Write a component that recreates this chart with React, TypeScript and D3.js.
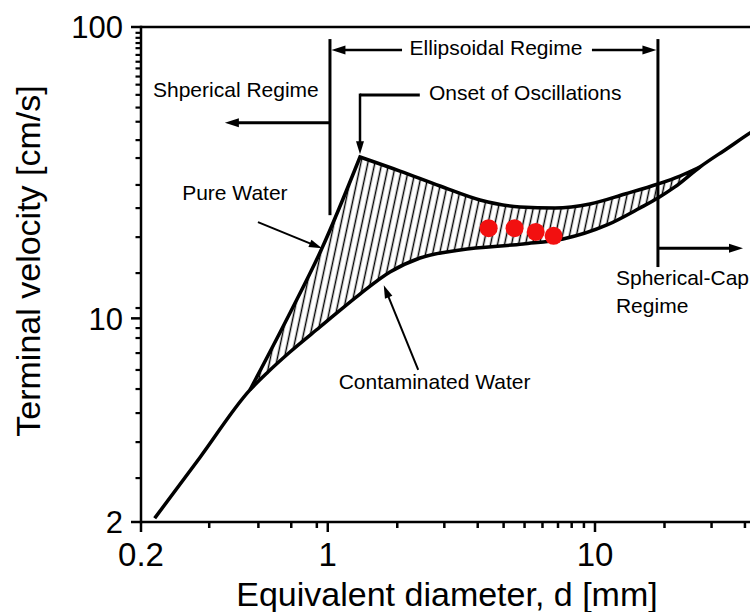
import React from 'react';
import * as d3 from 'd3';

const W = 750;
const H = 612;

// ---- Data (equivalent diameter d [mm], terminal velocity v [cm/s]) ----
const commonLeftD = [0.225, 0.3324, 0.5115];
const commonLeftV = [2.06, 3.33, 5.68];
const pureRiseD = [0.5115, 0.722, 0.951, 1.32];
const pureRiseV = [5.68, 10.43, 17.4, 35.8];
const pureFallD = [1.32, 1.863, 2.63, 3.712, 5.241, 7.086, 9.578, 12.95, 17.2, 20.8, 24.7];
const pureFallV = [35.8, 32.03, 28.46, 25.48, 24.12, 23.93, 24.69, 26.72, 28.92, 30.8, 33.07];
const contamD = [0.5115, 0.5973, 0.722, 0.935, 1.32, 1.709, 2.213, 3.124, 5.377, 7.59, 11.09, 14.74, 17.2, 19.91, 24.7];
const contamV = [5.68, 6.545, 7.665, 9.34, 12.12, 14.42, 16.11, 17.17, 18.0, 18.72, 20.92, 23.93, 25.89, 28.25, 33.07];
const commonRightD = [24.7, 31.46, 38.03, 47.2];
const commonRightV = [33.07, 38.44, 43.28, 48.7];
const measuredD = [4, 5, 6, 7];
const measuredV = [20.4, 20.4, 19.8, 19.2];

// ---- Ticks ----
const xMajorTicks = [0.2, 1, 10];
const xMajorLabels = ['0.2', '1', '10'];
const xMinorTicks = [0.36, 0.55, 0.73, 0.91, 1.82, 2.73, 3.64, 4.55, 5.45, 6.36, 7.27, 8.18, 9.09, 18.2, 27.3, 36.4];
const yMajorTicks = [2, 10, 100];
const yMajorLabels = ['2', '10', '100'];
const yMinorTicks = [2.83, 3.76, 4.73, 5.72, 6.65, 7.6, 8.56, 9.26, 10.85, 14.3, 19.0, 23.9, 28.7, 35.5, 40.9, 47.3, 52.9, 58.5, 63.4, 67.6, 72.1, 76.0, 80.2, 84.6, 88.1, 91.8, 95.5];

// ---- Annotation anchors (data coords) ----
const regimeTopV = 90.9;
const ellipLeftD = 1.019;
const ellipRightD = 17.2;
const ellipLeftBottomV = 22.6;
const capBottomV = 15.0;
const ellipArrowV = 83.4;
const ellipArrowLeftEndD = 1.896;
const ellipArrowRightStartD = 9.74;
const ellipTextD = 4.26;
const ellipTextV = 80.1;
const sphArrowV = 46.9;
const sphArrowTipD = 0.412;
const sphTextD = 0.453;
const sphTextV = 57.5;
const onsetD = 1.32;
const onsetTopV = 58.4;
const onsetTipV = 36.6;
const onsetLineEndD = 2.21;
const onsetTextD = 2.39;
const onsetTextV = 56.2;
const pureTextD = 0.449;
const pureTextV = 25.5;
const pureArrowFrom = [0.548, 21.4];
const pureArrowTo = [0.951, 17.4];
const contTextD = 2.51;
const contTextV = 5.72;
const contArrowFrom = [2.18, 6.65];
const contArrowTo = [1.62, 13.0];
const capArrowV = 17.4;
const capArrowTipD = 35.8;
const capTextD = 11.98;
const capTextV1 = 13.0;
const capTextV2 = 10.43;

const xScale = d3.scaleLog().domain([0.2, 10]).range([141, 595]);
const yScale = d3.scaleLog().domain([2, 100]).range([522, 27]);

const zip = (a: number[], b: number[]) => a.map((v, i) => [v, b[i]] as [number, number]);

const lineGen = d3
  .line<[number, number]>()
  .x((p) => xScale(p[0]))
  .y((p) => yScale(p[1]))
  .curve(d3.curveMonotoneX);

const FONT = 'Liberation Sans, Arial, Helvetica, sans-serif';

function arrowHead(x1: number, y1: number, x2: number, y2: number, len = 14, half = 4.5) {
  const a = Math.atan2(y2 - y1, x2 - x1);
  const bx = x2 - len * Math.cos(a);
  const by = y2 - len * Math.sin(a);
  const px = -Math.sin(a) * half;
  const py = Math.cos(a) * half;
  return `${x2},${y2} ${bx + px},${by + py} ${bx - px},${by - py}`;
}

function Arrow({ x1, y1, x2, y2, w = 3, len = 14, half = 4.5 }: any) {
  const a = Math.atan2(y2 - y1, x2 - x1);
  const ex = x2 - (len - 2) * Math.cos(a);
  const ey = y2 - (len - 2) * Math.sin(a);
  return (
    <g>
      <line x1={x1} y1={y1} x2={ex} y2={ey} stroke="#000" strokeWidth={w} />
      <polygon points={arrowHead(x1, y1, x2, y2, len, half)} fill="#000" />
    </g>
  );
}

export default function App() {
  const leftPts = zip(commonLeftD, commonLeftV);
  const contPts = zip(contamD, contamV);
  const rightPts = zip(commonRightD, commonRightV);
  const contaminatedFull = [...leftPts, ...contPts.slice(1), ...rightPts.slice(1)];
  const risePath = lineGen(zip(pureRiseD, pureRiseV)) || '';
  const fallPath = lineGen(zip(pureFallD, pureFallV)) || '';
  const upperPath = risePath + fallPath.replace(/^M/, 'L');
  const lowerPath = lineGen(contPts) || '';
  const x0 = xScale(contamD[0]);
  const x1 = xScale(contamD[contamD.length - 1]);
  const yb = yScale(2) + 5;
  const closeUpper = ` L${x1},${yb} L${x0},${yb} Z`;
  const closeLower = ` L${x1 + 3},${yb} L${x0 - 3},${yb} Z`;

  const X = xScale;
  const Y = yScale;
  const axisLeft = X(0.2);
  const axisBottom = Y(2);
  const axisTop = Y(100);

  return (
    <svg width={W} height={H} style={{ position: 'absolute', left: 0, top: 0, background: '#fff' }} fontFamily={FONT}>
      <defs>
        <pattern id="hatch" width={7} height={7} patternUnits="userSpaceOnUse" patternTransform="skewX(-12)">
          <line x1={3.5} y1={-1} x2={3.5} y2={8} stroke="#000" strokeWidth={1.5} />
        </pattern>
        <mask id="band">
          <rect x={0} y={0} width={W} height={H} fill="black" />
          <path d={upperPath + closeUpper} fill="white" />
          <path d={lowerPath + closeLower} fill="black" stroke="black" strokeWidth={1} />
        </mask>
      </defs>
      <rect x={0} y={0} width={W} height={H} fill="#fff" />

      {/* hatched band */}
      <rect x={0} y={0} width={W} height={H} fill="url(#hatch)" mask="url(#band)" />

      {/* curves */}
      <path d={lineGen(contaminatedFull) || ''} fill="none" stroke="#000" strokeWidth={3.5} strokeLinejoin="round" />
      <path d={upperPath} fill="none" stroke="#000" strokeWidth={3.5} strokeLinejoin="miter" />

      {/* measured points */}
      {measuredD.map((d, i) => (
        <circle key={i} cx={X(d)} cy={Y(measuredV[i])} r={9} fill="#f21010" />
      ))}

      {/* axes frame */}
      <line x1={axisLeft} y1={axisTop} x2={W} y2={axisTop} stroke="#000" strokeWidth={2.5} />
      <line x1={axisLeft} y1={axisTop - 1.2} x2={axisLeft} y2={axisBottom + 1.2} stroke="#000" strokeWidth={2.5} />
      <line x1={axisLeft} y1={axisBottom} x2={W} y2={axisBottom} stroke="#000" strokeWidth={2.5} />

      {/* x ticks */}
      {xMajorTicks.map((t, i) => (
        <g key={'xm' + i}>
          <line x1={X(t)} x2={X(t)} y1={axisBottom} y2={axisBottom + 10} stroke="#000" strokeWidth={2.5} />
          <text x={X(t)} y={566} fontSize={33} textAnchor="middle" fill="#000">{xMajorLabels[i]}</text>
        </g>
      ))}
      {xMinorTicks.map((t, i) => (
        <line key={'xn' + i} x1={X(t)} x2={X(t)} y1={axisBottom} y2={axisBottom + 6} stroke="#000" strokeWidth={2.5} />
      ))}

      {/* y ticks */}
      {yMajorTicks.map((t, i) => (
        <g key={'ym' + i}>
          <line x1={axisLeft - 10} x2={axisLeft} y1={Y(t)} y2={Y(t)} stroke="#000" strokeWidth={2.5} />
          <text x={123} y={Y(t)} dy="0.36em" fontSize={31} textAnchor="end" fill="#000">{yMajorLabels[i]}</text>
        </g>
      ))}
      {yMinorTicks.map((t, i) => (
        <line key={'yn' + i} x1={axisLeft - 5.5} x2={axisLeft} y1={Y(t)} y2={Y(t)} stroke="#000" strokeWidth={2.2} />
      ))}

      {/* axis titles */}
      <text x={447} y={606} fontSize={34} textAnchor="middle" fill="#000">Equivalent diameter, d [mm]</text>
      <text transform={`translate(40,261) rotate(-90)`} fontSize={34} textAnchor="middle" fill="#000">Terminal velocity [cm/s]</text>

      {/* Ellipsoidal regime bracket */}
      <line x1={X(ellipLeftD)} x2={X(ellipLeftD)} y1={Y(regimeTopV)} y2={Y(ellipLeftBottomV)} stroke="#000" strokeWidth={3} />
      <line x1={X(ellipRightD)} x2={X(ellipRightD)} y1={Y(regimeTopV)} y2={Y(capBottomV)} stroke="#000" strokeWidth={3} />
      <Arrow x1={X(ellipArrowLeftEndD)} y1={Y(ellipArrowV)} x2={X(ellipLeftD) + 1.5} y2={Y(ellipArrowV)} w={2.5} />
      <Arrow x1={X(ellipArrowRightStartD)} y1={Y(ellipArrowV)} x2={X(ellipRightD) - 1.5} y2={Y(ellipArrowV)} w={2.5} />
      <text x={X(ellipTextD)} y={Y(ellipTextV)} fontSize={21} textAnchor="middle" fill="#000">Ellipsoidal Regime</text>

      {/* Spherical regime */}
      <Arrow x1={X(ellipLeftD)} y1={Y(sphArrowV)} x2={X(sphArrowTipD)} y2={Y(sphArrowV)} w={3} />
      <text x={X(sphTextD)} y={Y(sphTextV)} fontSize={21} textAnchor="middle" fill="#000">Shperical Regime</text>

      {/* Onset of oscillations */}
      <line x1={X(onsetD)} x2={X(onsetLineEndD)} y1={Y(onsetTopV)} y2={Y(onsetTopV)} stroke="#000" strokeWidth={3} />
      <Arrow x1={X(onsetD)} y1={Y(onsetTopV) - 1.5} x2={X(onsetD)} y2={Y(onsetTipV)} w={2.5} len={13} half={4} />
      <text x={X(onsetTextD)} y={Y(onsetTextV)} fontSize={21} textAnchor="start" fill="#000">Onset of Oscillations</text>

      {/* Pure water */}
      <text x={X(pureTextD)} y={Y(pureTextV)} fontSize={21} textAnchor="middle" fill="#000">Pure Water</text>
      <Arrow x1={X(pureArrowFrom[0])} y1={Y(pureArrowFrom[1])} x2={X(pureArrowTo[0])} y2={Y(pureArrowTo[1])} w={2} len={13} half={4} />

      {/* Contaminated water */}
      <text x={X(contTextD)} y={Y(contTextV)} fontSize={21} textAnchor="middle" fill="#000">Contaminated Water</text>
      <Arrow x1={X(contArrowFrom[0])} y1={Y(contArrowFrom[1])} x2={X(contArrowTo[0])} y2={Y(contArrowTo[1])} w={2} len={13} half={4} />

      {/* Spherical-cap regime */}
      <Arrow x1={X(ellipRightD)} y1={Y(capArrowV)} x2={X(capArrowTipD)} y2={Y(capArrowV)} w={3} />
      <text x={X(capTextD)} y={Y(capTextV1)} fontSize={21} textAnchor="start" fill="#000">Spherical-Cap</text>
      <text x={X(capTextD)} y={Y(capTextV2)} fontSize={21} textAnchor="start" fill="#000">Regime</text>
    </svg>
  );
}
